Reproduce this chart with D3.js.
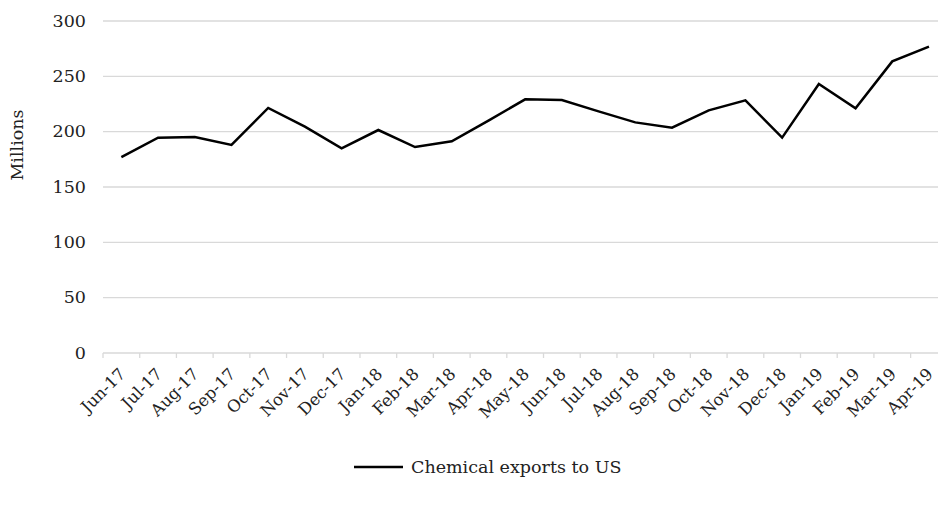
<!DOCTYPE html>
<html>
<head>
<meta charset="utf-8">
<script src="https://cdn.jsdelivr.net/npm/d3@7"></script>
<style>
  body { margin: 0; background: #fff; }
  svg text { font-family: "DejaVu Serif", serif; fill: #222; }
</style>
</head>
<body>
<svg id="chart" width="938" height="505"></svg>
<script>
const months = ['Jun-17', 'Jul-17', 'Aug-17', 'Sep-17', 'Oct-17', 'Nov-17', 'Dec-17', 'Jan-18',
    'Feb-18', 'Mar-18', 'Apr-18', 'May-18', 'Jun-18', 'Jul-18', 'Aug-18', 'Sep-18', 'Oct-18',
    'Nov-18', 'Dec-18', 'Jan-19', 'Feb-19', 'Mar-19', 'Apr-19']
const exportsUS = [177, 194.6, 195.2, 188, 221.4, 204.5, 185, 201.5, 186.1, 191.3, 210, 229.2,
    228.6, 218.3, 208.4, 203.6, 219.3, 228.3, 194.6, 243, 221.1, 263.5, 276.8]
const yTicks = [0, 50, 100, 150, 200, 250, 300]
const seriesName = 'Chemical exports to US'
const yLabel = 'Millions'

const svg = d3.select('#chart')

const plotLeft = 103
const bandW = 36.71
const plotTop = 21
const plotBottom = 353

const x = d3.scaleBand().domain(months).range([ plotLeft, plotLeft + bandW * months.length ])
const y = d3.scaleLinear().domain([ 0, 300 ]).range([ plotBottom, plotTop ])

// gridlines
svg.append('g').selectAll('line').data(yTicks.filter(t => t > 0)).enter()
    .append('line')
    .attr('x1', plotLeft).attr('x2', 938)
    .attr('y1', d => y(d)).attr('y2', d => y(d))
    .attr('stroke', '#d9d9d9').attr('stroke-width', 1.3)

// y axis labels
const yAxis = d3.axisLeft(y).tickValues(yTicks).tickSize(0).tickPadding(17)
const yg = svg.append('g').attr('transform', `translate(${plotLeft},0)`).call(yAxis)
yg.attr('font-family', null)
yg.select('.domain').remove()
yg.selectAll('text').style('font-size', '17.5px').attr('dy', '0.3em')

// x axis
const xAxis = d3.axisBottom(x).tickSizeOuter(0).tickSizeInner(0)
const xg = svg.append('g').attr('transform', `translate(0,${plotBottom})`).call(xAxis)
xg.attr('font-family', null)
xg.select('.domain').attr('stroke', '#d9d9d9').attr('stroke-width', 1.3)
    .attr('d', `M${plotLeft},0H938`)
xg.selectAll('.tick line').remove()
xg.selectAll('.tick text')
    .style('font-size', '16.5px')
    .attr('text-anchor', 'end')
    .attr('y', 0).attr('dy', 0)
    .attr('transform', 'translate(5,22) rotate(-45)')

// tick marks at band edges
svg.append('g').selectAll('line').data(months).enter()
    .append('line')
    .attr('x1', d => x(d)).attr('x2', d => x(d))
    .attr('y1', plotBottom).attr('y2', plotBottom + 5)
    .attr('stroke', '#d9d9d9').attr('stroke-width', 1.3)

// line
const line = d3.line().x((d, i) => x(months[i]) + x.bandwidth() / 2).y(d => y(d))
svg.append('path')
    .datum(exportsUS)
    .attr('fill', 'none')
    .attr('stroke', '#000')
    .attr('stroke-width', 2.5)
    .attr('d', line)

// y title
svg.append('text')
    .attr('transform', 'translate(23,145) rotate(-90)')
    .attr('text-anchor', 'middle')
    .style('font-size', '17.5px')
    .text(yLabel)

// legend
const lg = svg.append('g').attr('transform', 'translate(354,467)')
lg.append('line').attr('x1', 0).attr('x2', 49).attr('y1', 0).attr('y2', 0)
    .attr('stroke', '#000').attr('stroke-width', 2.5)
lg.append('text').attr('x', 57).attr('y', 6).style('font-size', '17.5px').text(seriesName)
</script>
</body>
</html>
